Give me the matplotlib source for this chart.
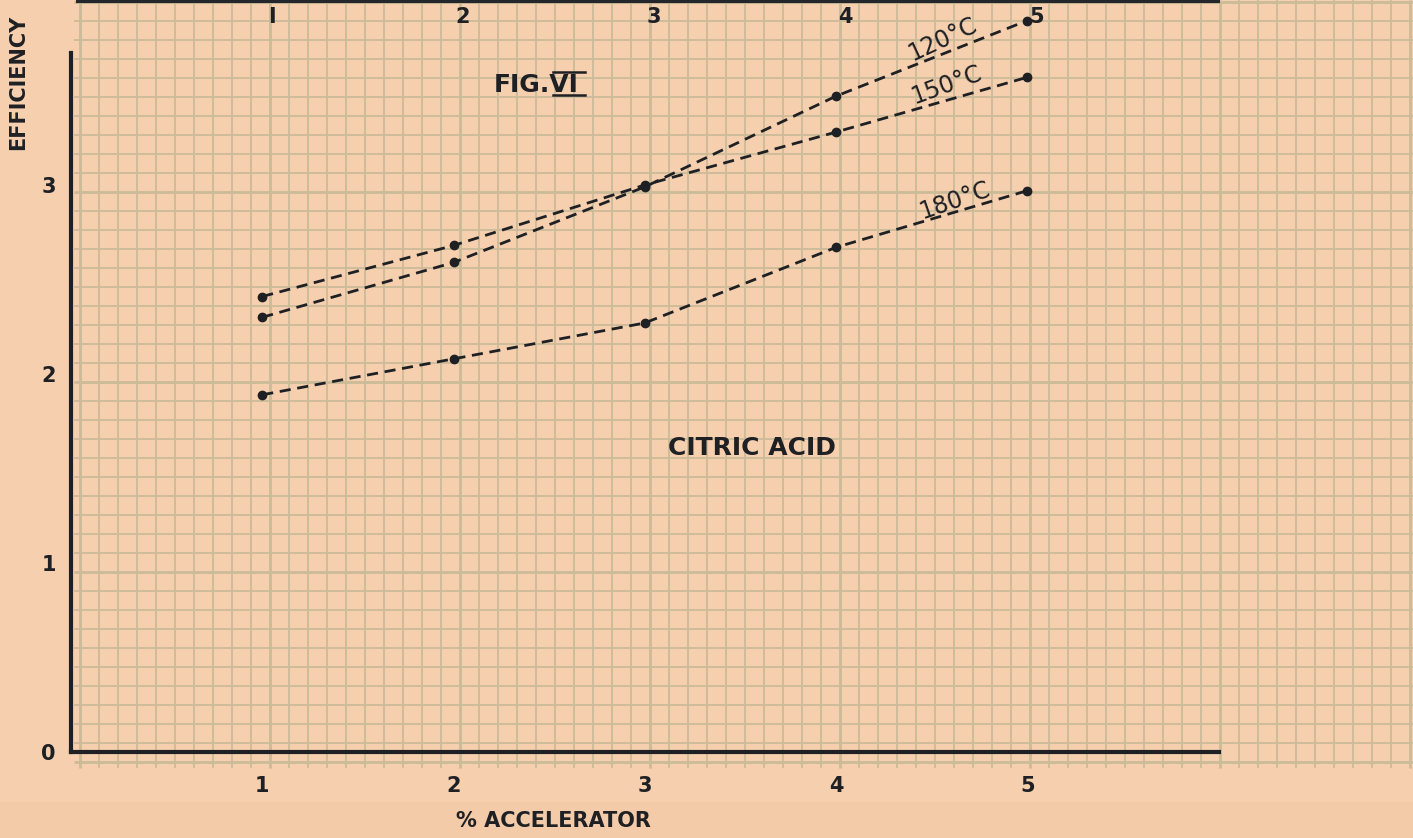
import numpy as np
import matplotlib
matplotlib.use("Agg")
import matplotlib.pyplot as plt

# ---- data ----
accelerator = [1, 2, 3, 4, 5]
eff_120 = [2.30, 2.59, 2.99, 3.47, 3.87]
eff_150 = [2.41, 2.68, 3.00, 3.28, 3.57]
eff_180 = [1.89, 2.08, 2.27, 2.67, 2.97]
series_labels = ["120°C", "150°C", "180°C"]
y_ticks = [0, 1, 2, 3]
x_tick_labels = ["1", "2", "3", "4", "5"]
top_tick_labels = ["I", "2", "3", "4", "5"]

PAPER = "#f6cfae"
GRID = "#cbbb98"
INK = "#1e2024"

W, H = 1413, 838
fig = plt.figure(figsize=(W / 100, H / 100), dpi=100, facecolor=PAPER)

# ---- graph-paper background (pixel coordinates) ----
bg = fig.add_axes([0, 0, 1, 1])
bg.set_xlim(0, W)
bg.set_ylim(H, 0)
bg.axis("off")
bg.add_patch(plt.Rectangle((0, 802), W, 36, color="#f3cba9", lw=0, zorder=0))
grid_bottom = 768
vx = np.arange(80, W + 1, 19.0)
for i, x in enumerate(vx):
    heavy = i % 10 == 0
    bg.plot([x, x], [0, grid_bottom], color=GRID, lw=2.0 if heavy else 1.3, zorder=1,
            solid_capstyle="butt")
hy = np.arange(2, grid_bottom, 19.0)
for i, y in enumerate(hy):
    heavy = i % 10 == 0
    bg.plot([74, W], [y, y], color=GRID, lw=2.0 if heavy else 1.3, zorder=1,
            solid_capstyle="butt")
# dark top edge
bg.plot([76, 1220], [1, 1], color="#23262b", lw=3, zorder=2, solid_capstyle="butt")
# bars of the roman numeral in "FIG.VI"
bg.plot([553, 585], [72, 72], color=INK, lw=1.8, zorder=3)
bg.plot([553, 585], [95, 95], color=INK, lw=1.8, zorder=3)

# ---- data axes ----
px_unit_x = 191.25
px_unit_y = 189.0
xmax, ymax = 6.0, 3.98
ax = fig.add_axes([71 / W, (H - 752) / H, xmax * px_unit_x / W, ymax * px_unit_y / H])
ax.set_xlim(0, xmax)
ax.set_ylim(0, ymax)
ax.patch.set_alpha(0)

for sp in ["top", "right"]:
    ax.spines[sp].set_visible(False)
ax.spines["left"].set_bounds(0, 3.7)
ax.spines["left"].set_linewidth(3)
ax.spines["bottom"].set_linewidth(3)
ax.spines["left"].set_color(INK)
ax.spines["bottom"].set_color(INK)

font = dict(family="DejaVu Sans", weight="bold", color=INK)

ax.set_xticks(accelerator)
ax.set_xticklabels(x_tick_labels, fontsize=15, **font)
ax.set_yticks(y_ticks)
ax.set_yticklabels([str(v) for v in y_ticks], fontsize=15, **font)
ax.tick_params(axis="x", length=0, pad=17)
ax.tick_params(axis="y", length=0, pad=11)

for i, lab in enumerate(top_tick_labels):
    ax.text(accelerator[i] + 0.05, 0.977, lab, transform=ax.get_xaxis_transform(),
            ha="center", va="center", fontsize=15, **font)

for ys in (eff_120, eff_150, eff_180):
    ax.plot(accelerator, ys, color=INK, lw=2.0, ls=(0, (4, 2.4)), marker="o",
            markersize=6, clip_on=False, zorder=5)

ax.text(4.56, 3.77, series_labels[0], rotation=25, ha="center", va="center",
        fontsize=17, color=INK, family="DejaVu Sans")
ax.text(4.58, 3.53, series_labels[1], rotation=20, ha="center", va="center",
        fontsize=17, color=INK, family="DejaVu Sans")
ax.text(4.62, 2.92, series_labels[2], rotation=19, ha="center", va="center",
        fontsize=17, color=INK, family="DejaVu Sans")

ax.text(2.43, 3.53, "FIG.VI", ha="center", va="center", fontsize=18, **font)
ax.text(3.56, 1.61, "CITRIC ACID", ha="center", va="center", fontsize=18, **font)

ax.set_xlabel("% ACCELERATOR", fontsize=15, **font)
ax.xaxis.set_label_coords(0.42, -0.078)
ax.set_ylabel("EFFICIENCY", fontsize=15, **font)
ax.yaxis.set_label_coords(-0.037, 0.89)

fig.savefig("out.png", dpi=100, facecolor=PAPER)
